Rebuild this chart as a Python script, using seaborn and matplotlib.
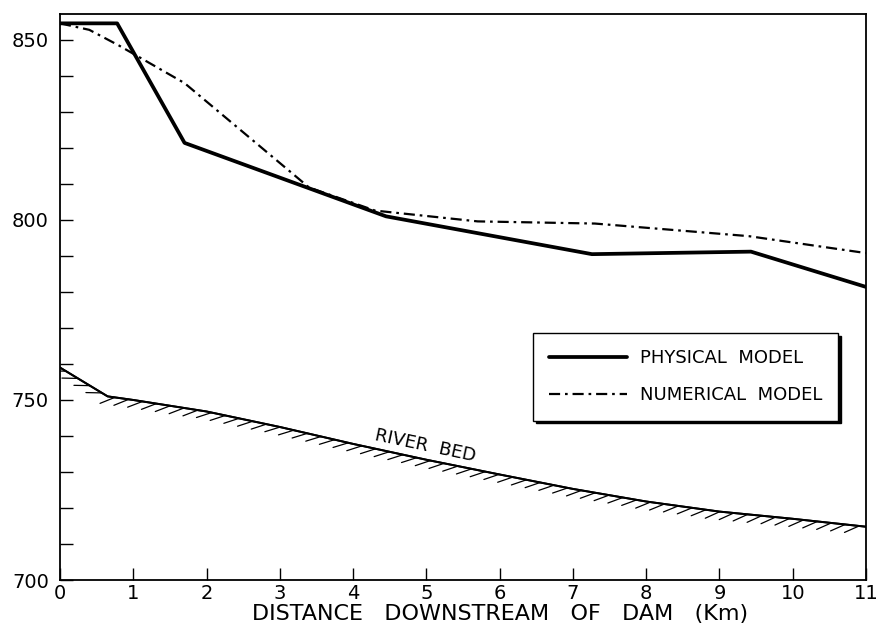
import numpy as np
import pandas as pd
import matplotlib
matplotlib.use("Agg")
import matplotlib.pyplot as plt
import matplotlib.patheffects as pe
from matplotlib.ticker import MultipleLocator
import seaborn as sns

# ---- data ----
phys_x = [0.0, 0.78, 1.70, 4.45, 7.26, 9.43, 11.0]
phys_y = [854.6, 854.6, 821.4, 801.0, 790.5, 791.2, 781.4]

num_x = [0.0, 0.4, 0.8, 1.7, 3.4, 4.3, 5.7, 7.3, 9.4, 11.0]
num_y = [854.6, 852.8, 848.5, 838.0, 809.0, 802.6, 799.6, 799.0, 795.5, 790.8]

bed_x = [0.0, 0.65, 1.0, 2.0, 3.0, 4.0, 5.0, 6.0, 7.0, 8.0, 9.0, 10.0, 11.0]
bed_y = [759.0, 751.0, 750.0, 746.8, 742.5, 737.8, 733.4, 729.3, 725.3, 721.8, 719.0, 717.0, 714.8]

x_ticks = list(range(0, 12))
y_labeled = [700, 750, 800, 850]

sns.set_style("ticks")
plt.rcParams['font.family'] = ['DejaVu Sans']
plt.rcParams['text.color'] = 'black'
plt.rcParams['xtick.color'] = 'black'
plt.rcParams['ytick.color'] = 'black'
plt.rcParams['axes.labelcolor'] = 'black'

fig = plt.figure(figsize=(8.8, 6.35), dpi=100)
ax = fig.add_axes([60/880, 55/635, 806/880, 566/635])

sns.lineplot(x=phys_x, y=phys_y, ax=ax, color="black", lw=2.7,
             label="PHYSICAL  MODEL", sort=False, estimator=None)
sns.lineplot(x=num_x, y=num_y, ax=ax, color="black", lw=1.6,
             label="NUMERICAL  MODEL", sort=False, estimator=None,
             dashes=False)
ax.lines[1].set_dashes([5, 2.2, 1.2, 2.2])

sns.lineplot(x=bed_x, y=bed_y, ax=ax, color="black", lw=1.4,
             sort=False, estimator=None, legend=False)
ax.lines[2].set_path_effects([
    pe.withTickedStroke(spacing=10, angle=-150, length=1.15, linewidth=0.9),
    pe.Normal(),
])

ax.text(4.98, 737.4, "RIVER  BED", rotation=-12, ha="center", va="center",
        fontsize=13)

ax.set_xlim(0, 11)
ax.set_ylim(700, 857.2)
ax.set_xticks(x_ticks)
ax.set_yticks(y_labeled)
ax.yaxis.set_minor_locator(MultipleLocator(10))
ax.tick_params(axis="both", which="both", direction="in", length=9, width=1.0,
               labelsize=14, top=False, right=False, color="black",
               labelcolor="black")
ax.tick_params(axis="x", pad=3)
ax.tick_params(axis="y", pad=8)
for s in ax.spines.values():
    s.set_linewidth(1.3)
    s.set_color("black")

ax.set_xlabel("DISTANCE   DOWNSTREAM   OF   DAM   (Km)", fontsize=16)
ax.xaxis.set_label_coords(0.546, -0.042)
ax.set_ylabel("")

leg = ax.legend(loc="upper left", bbox_to_anchor=(0.587, 0.436),
                frameon=True, fancybox=False, fontsize=13,
                handlelength=4.3, handletextpad=0.7, borderpad=0.9,
                borderaxespad=0, labelspacing=1.05,
                shadow={"color": "black", "alpha": 1, "ox": 1.8, "oy": -1.8})
leg.get_frame().set_edgecolor("black")
leg.get_frame().set_linewidth(1.0)

fig.savefig("out.png", dpi=100)
